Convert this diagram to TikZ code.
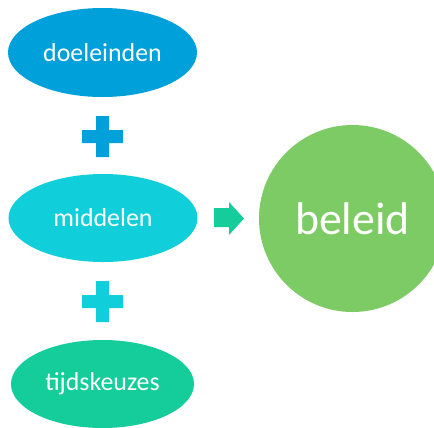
\documentclass[tikz,border=0pt]{standalone}
\usepackage{fontspec}
\setmainfont{Carlito}
\usetikzlibrary{shapes.geometric}
\definecolor{doelblue}{HTML}{00A0DA}
\definecolor{middcyan}{HTML}{10CFDA}
\definecolor{tijdgreen}{HTML}{14CD9B}
\definecolor{beleidgreen}{HTML}{7DCB64}
\begin{document}
\begin{tikzpicture}[x=1bp,y=-1bp,
    blob/.style={ellipse,inner sep=0pt,text=white,font=\fontsize{26}{30}\selectfont},
    plusbar/.style={fill=#1,draw=none}]
    \useasboundingbox (0,0) rectangle (434,427);
    \clip (0,0) rectangle (434,427);
    \node[blob,fill=doelblue,minimum width=189bp,minimum height=89bp] (doel) at (102.5,52.5) {doeleinden};
    \node[blob,fill=middcyan,minimum width=189bp,minimum height=88bp] (midd) at (103,218) {middelen};
    \node[blob,fill=tijdgreen,minimum width=183bp,minimum height=88bp] (tijd) at (102.5,384) {tijdskeuzes};
    \node[circle,fill=beleidgreen,inner sep=0pt,minimum size=187bp,text=white,
          font=\fontsize{46}{50}\selectfont] (beleid) at (352.5,218.5) {beleid};
    % plus signs
    \fill[doelblue] (82,130) rectangle (123,143) (96,116) rectangle (109,157);
    \fill[middcyan] (82,295) rectangle (123,308) (96,281) rectangle (109,322);
    % arrow
    \fill[tijdgreen] (214,208) -- (229,208) -- (229,202) -- (244,218.5) -- (229,235)
        -- (229,227) -- (214,227) -- cycle;
\end{tikzpicture}
\end{document}
